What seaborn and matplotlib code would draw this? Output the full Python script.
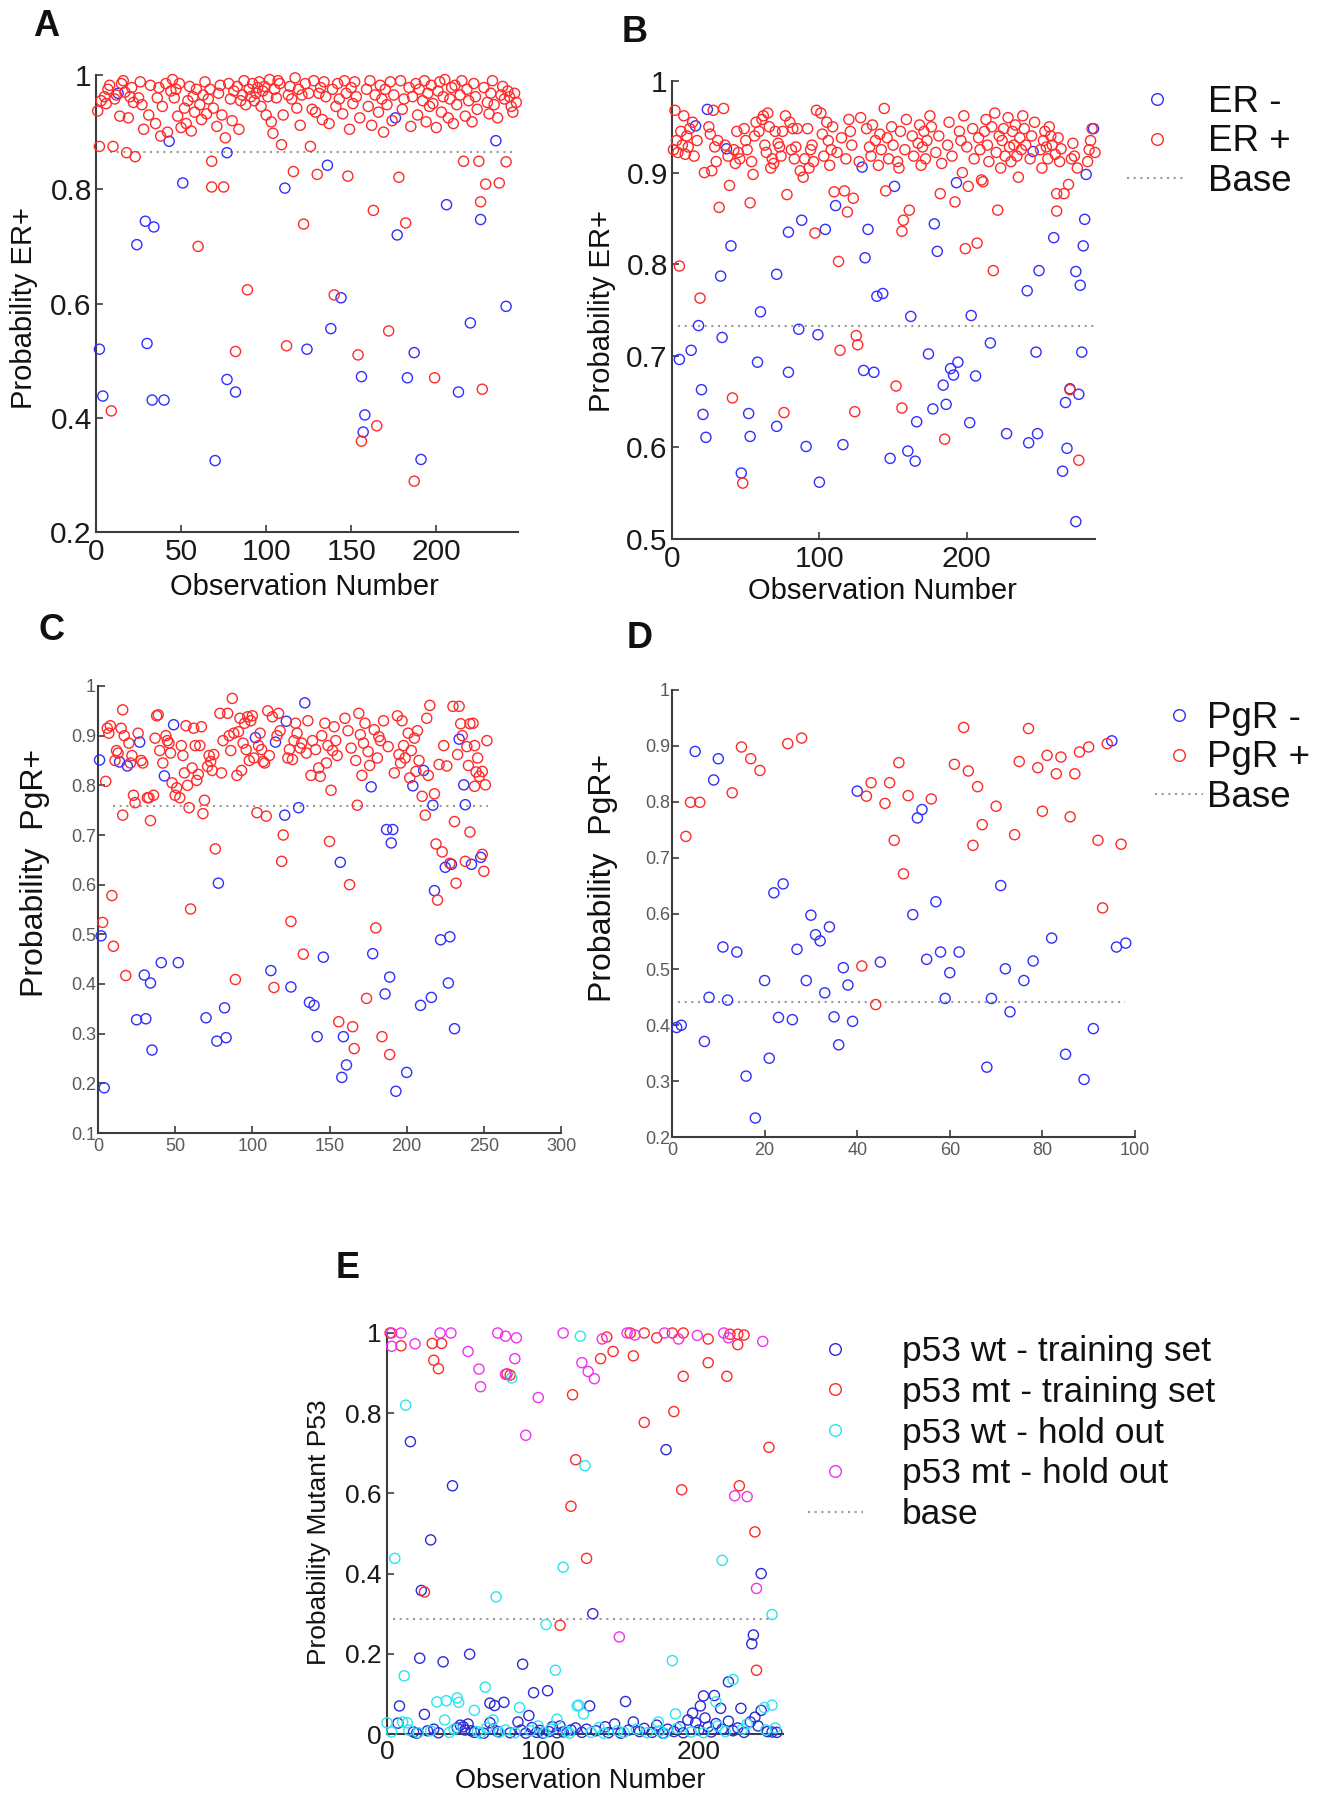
import matplotlib
matplotlib.use("Agg")
import numpy as np
import pandas as pd
import matplotlib.pyplot as plt
import seaborn as sns
from matplotlib.lines import Line2D

# ----------------------
# Data
# ----------------------

# Panel A - ER status (training set)
a_n_obs = 247
a_neg_x = [2, 4, 13, 24, 29, 30, 33, 34, 40, 43, 51, 70, 77, 77, 82, 111, 124, 136, 138, 144,
           156, 157, 158, 176, 177, 183, 187, 191, 206, 213, 220, 226, 235, 241]
a_neg_y = [0.520, 0.438, 0.968, 0.703, 0.744, 0.530, 0.431, 0.734, 0.431, 0.884, 0.811, 0.325, 0.864, 0.467,
           0.445, 0.802, 0.520, 0.842, 0.556, 0.610, 0.472, 0.375, 0.405, 0.925, 0.720, 0.470, 0.514, 0.327,
           0.773, 0.445, 0.566, 0.747, 0.885, 0.595]
a_pos_x = [2, 9, 10, 18, 23, 60, 68, 68, 75, 82, 89, 112, 116, 122, 130, 140, 148, 154, 156, 163,
           165, 172, 178, 182, 187, 199, 216, 225, 226, 227, 229, 237, 241]
a_pos_y = [0.875, 0.412, 0.875, 0.864, 0.857, 0.700, 0.804, 0.849, 0.804, 0.516, 0.624, 0.526, 0.831, 0.739,
           0.826, 0.615, 0.823, 0.510, 0.359, 0.763, 0.386, 0.552, 0.821, 0.741, 0.289, 0.470, 0.849, 0.849,
           0.778, 0.450, 0.809, 0.811, 0.848]
# dense ER+ band, remaining observations in order
a_pos_band = [
    0.937, 0.955, 0.962, 0.950, 0.975, 0.982, 0.958, 0.965, 0.928, 0.985,
    0.990, 0.970, 0.925, 0.962, 0.978, 0.952, 0.960, 0.988, 0.948, 0.905,
    0.930, 0.982, 0.915, 0.960, 0.978, 0.893, 0.945, 0.985, 0.900, 0.972,
    0.992, 0.960, 0.975, 0.928, 0.985, 0.908, 0.942, 0.915, 0.955, 0.980,
    0.902, 0.962, 0.935, 0.975, 0.948, 0.922, 0.965, 0.988, 0.932, 0.958,
    0.975, 0.942, 0.910, 0.968, 0.982, 0.930, 0.890, 0.985, 0.958, 0.920,
    0.972, 0.980, 0.905, 0.955, 0.965, 0.990, 0.948, 0.975, 0.962, 0.985,
    0.955, 0.968, 0.978, 0.988, 0.945, 0.972, 0.980, 0.930, 0.962, 0.992,
    0.918, 0.898, 0.975, 0.960, 0.990, 0.985, 0.878, 0.930, 0.965, 0.980,
    0.958, 0.995, 0.942, 0.975, 0.912, 0.965, 0.985, 0.968, 0.875, 0.940,
    0.990, 0.935, 0.968, 0.978, 0.922, 0.988, 0.962, 0.915, 0.975, 0.945,
    0.985, 0.958, 0.932, 0.990, 0.968, 0.905, 0.978, 0.950, 0.988, 0.962,
    0.925, 0.975, 0.945, 0.990, 0.912, 0.965, 0.935, 0.982, 0.958, 0.900,
    0.975, 0.948, 0.988, 0.920, 0.965, 0.990, 0.940, 0.958, 0.978, 0.910,
    0.962, 0.985, 0.930, 0.975, 0.955, 0.990, 0.918, 0.968, 0.945, 0.982,
    0.950, 0.908, 0.972, 0.988, 0.935, 0.962, 0.992, 0.925, 0.958, 0.978,
    0.915, 0.982, 0.948, 0.965, 0.990, 0.928, 0.975, 0.955, 0.918, 0.985,
    0.962, 0.940, 0.978, 0.952, 0.932, 0.968, 0.990, 0.948, 0.925, 0.965,
    0.980, 0.958, 0.972, 0.962, 0.945, 0.935, 0.968, 0.952]
a_base = 0.865
a_base_x = [8, 247]

# Panel B - ER status
b_n_obs = 287
b_neg_x = [24, 16, 37, 129, 111, 133, 104, 88, 79, 40, 131, 33, 71, 60, 18, 86, 99, 34, 13, 5,
           58, 130, 79, 20, 21, 52, 71, 23, 53, 91, 116, 47, 100,
           286, 245, 281, 151, 193, 178, 280, 259, 279, 180, 249, 274, 277, 241, 139, 143, 162, 203,
           216, 174, 247, 278, 137, 194, 189, 191, 206, 184, 270, 276, 267, 186, 177, 166, 202, 227,
           248, 242, 268, 148, 160, 165, 265, 274]
b_neg_y = [0.969, 0.951, 0.926, 0.906, 0.864, 0.838, 0.838, 0.848, 0.835, 0.820, 0.807, 0.787, 0.789, 0.748,
           0.733, 0.729, 0.723, 0.720, 0.706, 0.696, 0.693, 0.684, 0.682, 0.663, 0.636, 0.637, 0.623, 0.611,
           0.612, 0.601, 0.603, 0.572, 0.562,
           0.948, 0.923, 0.898, 0.885, 0.889, 0.844, 0.849, 0.829, 0.820, 0.814, 0.793, 0.792, 0.777, 0.771,
           0.765, 0.768, 0.743, 0.744, 0.714, 0.702, 0.704, 0.704, 0.682, 0.693, 0.686, 0.679, 0.678, 0.668,
           0.664, 0.658, 0.649, 0.647, 0.642, 0.628, 0.627, 0.615, 0.615, 0.605, 0.599, 0.588, 0.596, 0.585,
           0.574, 0.519]
b_pos_x = [5, 19, 41, 48, 76, 124, 114, 125, 126, 97, 113, 32, 53, 39, 78, 110, 117, 123, 119, 27,
           55, 270, 276, 185, 156, 152, 218, 199, 207, 156, 157, 161, 221, 261, 182, 192, 145, 201, 261, 266, 269]
b_pos_y = [0.798, 0.763, 0.654, 0.561, 0.638, 0.639, 0.706, 0.722, 0.712, 0.834, 0.803, 0.862, 0.867, 0.886,
           0.876, 0.879, 0.880, 0.872, 0.857, 0.902, 0.898, 0.663, 0.586, 0.609, 0.643, 0.667, 0.793, 0.817,
           0.823, 0.836, 0.848, 0.859, 0.859, 0.858, 0.877, 0.868, 0.880, 0.885, 0.877, 0.877, 0.887]
b_pos_band = [
    0.925, 0.968, 0.935, 0.922, 0.945, 0.930, 0.962, 0.920, 0.940, 0.928,
    0.948, 0.955, 0.918, 0.935, 0.900, 0.950, 0.942, 0.968, 0.928, 0.912,
    0.935, 0.970, 0.930, 0.918, 0.925, 0.910, 0.945, 0.922, 0.915, 0.948,
    0.935, 0.925, 0.912, 0.940, 0.955, 0.945, 0.958, 0.962, 0.930, 0.922,
    0.965, 0.950, 0.905, 0.915, 0.910, 0.945, 0.932, 0.928, 0.918, 0.945,
    0.962, 0.955, 0.925, 0.948, 0.915, 0.928, 0.948, 0.902, 0.895, 0.915,
    0.948, 0.905, 0.925, 0.930, 0.912, 0.968, 0.965, 0.942, 0.918, 0.955,
    0.935, 0.908, 0.925, 0.950, 0.922, 0.938, 0.915, 0.958, 0.945, 0.930,
    0.912, 0.960, 0.948, 0.928, 0.918, 0.952, 0.935, 0.908, 0.942, 0.925,
    0.970, 0.938, 0.915, 0.950, 0.930, 0.912, 0.905, 0.945, 0.925, 0.958,
    0.940, 0.918, 0.932, 0.952, 0.908, 0.928, 0.945, 0.915, 0.935, 0.962,
    0.950, 0.922, 0.940, 0.910, 0.930, 0.955, 0.918, 0.945, 0.935, 0.900,
    0.962, 0.928, 0.948, 0.915, 0.938, 0.925, 0.892, 0.890, 0.945, 0.958,
    0.930, 0.912, 0.950, 0.965, 0.922, 0.940, 0.905, 0.935, 0.948, 0.918,
    0.960, 0.928, 0.912, 0.945, 0.930, 0.952, 0.918, 0.895, 0.938, 0.925,
    0.962, 0.948, 0.930, 0.915, 0.940, 0.955, 0.925, 0.905, 0.935, 0.945,
    0.928, 0.915, 0.950, 0.940, 0.930, 0.920, 0.938, 0.912, 0.926, 0.915,
    0.932, 0.918, 0.905, 0.912, 0.925, 0.935, 0.948, 0.922, 0.915, 0.930,
    0.940, 0.925, 0.918, 0.935, 0.912]
b_base = 0.732
b_base_x = [4, 286]

# Panel C - PgR status (training set)
c_n_obs = 252
c_neg_x = [1, 4, 2, 14, 19, 27, 43, 49, 41, 52, 30, 34, 25, 31, 35, 78, 82, 70, 77, 83,
           102, 115, 122, 134, 121, 130, 112, 125, 137, 140, 142, 146, 234, 211, 237, 204, 177, 217, 238, 187,
           191, 190, 157, 225, 229, 242, 248, 218, 222, 228, 178, 189, 186, 227, 216, 209, 231, 159, 161, 158,
           200, 193]
c_neg_y = [0.851, 0.191, 0.497, 0.847, 0.839, 0.887, 0.819, 0.922, 0.443, 0.443, 0.418, 0.402, 0.328, 0.330,
           0.267, 0.603, 0.352, 0.332, 0.285, 0.292, 0.896, 0.887, 0.929, 0.966, 0.740, 0.755, 0.427, 0.394,
           0.363, 0.357, 0.294, 0.454, 0.893, 0.830, 0.801, 0.799, 0.797, 0.760, 0.761, 0.711, 0.711, 0.684,
           0.645, 0.635, 0.641, 0.641, 0.655, 0.588, 0.489, 0.495, 0.461, 0.414, 0.380, 0.402, 0.373, 0.357,
           0.310, 0.294, 0.237, 0.212, 0.222, 0.184]
c_pos_x = [3, 9, 10, 5, 18, 16, 34, 60, 76, 89, 114, 125, 119, 120, 133, 103, 109, 68, 59, 150,
           16, 163, 180, 174, 156, 165, 166, 184, 189, 231, 241, 219, 223, 228, 238, 249, 250, 232, 220, 212,
           168, 210, 218, 151, 230, 234, 215, 245, 249, 244, 251, 239, 244, 235, 241, 221, 226]
c_pos_y = [0.524, 0.578, 0.476, 0.808, 0.417, 0.740, 0.729, 0.551, 0.672, 0.409, 0.393, 0.526, 0.647, 0.700,
           0.460, 0.745, 0.738, 0.743, 0.755, 0.687, 0.952, 0.600, 0.513, 0.371, 0.324, 0.314, 0.270, 0.294,
           0.258, 0.727, 0.706, 0.682, 0.666, 0.643, 0.647, 0.661, 0.627, 0.603, 0.569, 0.740, 0.760, 0.778,
           0.783, 0.790, 0.959, 0.959, 0.961, 0.827, 0.828, 0.798, 0.801, 0.878, 0.880, 0.924, 0.924, 0.842,
           0.839]
c_pos_band = [
    0.915, 0.905, 0.920, 0.850, 0.870, 0.865, 0.915, 0.900, 0.885, 0.845,
    0.860, 0.780, 0.765, 0.905, 0.850, 0.845, 0.775, 0.775, 0.780, 0.895,
    0.940, 0.942, 0.870, 0.845, 0.900, 0.890, 0.885, 0.865, 0.805, 0.780,
    0.795, 0.775, 0.880, 0.860, 0.825, 0.920, 0.800, 0.835, 0.915, 0.880,
    0.810, 0.822, 0.880, 0.918, 0.770, 0.838, 0.860, 0.848, 0.830, 0.862,
    0.945, 0.825, 0.890, 0.945, 0.900, 0.870, 0.975, 0.905, 0.820, 0.908,
    0.935, 0.830, 0.885, 0.925, 0.872, 0.938, 0.850, 0.930, 0.940, 0.855,
    0.880, 0.905, 0.872, 0.848, 0.845, 0.950, 0.860, 0.938, 0.900, 0.945,
    0.910, 0.855, 0.872, 0.852, 0.890, 0.925, 0.905, 0.875, 0.885, 0.865,
    0.930, 0.820, 0.890, 0.872, 0.835, 0.818, 0.900, 0.925, 0.845, 0.880,
    0.870, 0.918, 0.890, 0.860, 0.935, 0.910, 0.875, 0.850, 0.945, 0.902,
    0.820, 0.885, 0.925, 0.868, 0.840, 0.912, 0.855, 0.898, 0.890, 0.930,
    0.878, 0.825, 0.940, 0.862, 0.845, 0.930, 0.880, 0.855, 0.905, 0.815,
    0.870, 0.895, 0.828, 0.910, 0.850, 0.935, 0.820, 0.880, 0.862, 0.900,
    0.840, 0.925, 0.855, 0.818, 0.890, 0.865, 0.800, 0.845, 0.880, 0.860]
c_base = 0.759
c_base_x = [10, 253]

# Panel D - PgR status (hold out)
d_n_obs = 98
d_neg_x = [1, 2, 5, 7, 8, 9, 10, 11, 12, 14, 16, 18, 20, 21, 22, 24, 23, 26, 27, 29,
           30, 31, 32, 33, 34, 35, 36, 37, 38, 39, 40, 45, 52, 53, 54, 55, 57, 58, 60, 59,
           62, 68, 69, 71, 72, 73, 76, 78, 82, 85, 89, 91, 96, 98, 95]
d_neg_y = [0.396, 0.400, 0.890, 0.371, 0.450, 0.839, 0.877, 0.540, 0.445, 0.531, 0.309, 0.234, 0.480, 0.341,
           0.637, 0.653, 0.414, 0.410, 0.536, 0.480, 0.597, 0.562, 0.551, 0.458, 0.576, 0.415, 0.365, 0.503,
           0.472, 0.407, 0.819, 0.513, 0.598, 0.771, 0.786, 0.518, 0.621, 0.531, 0.494, 0.448, 0.531, 0.325,
           0.448, 0.650, 0.501, 0.424, 0.480, 0.515, 0.556, 0.348, 0.303, 0.394, 0.540, 0.547, 0.909]
d_pos_x = [3, 4, 6, 13, 15, 17, 19, 25, 28, 41, 42, 43, 46, 44, 47, 49, 51, 48, 50, 56,
           63, 61, 64, 66, 67, 65, 70, 74, 77, 75, 79, 81, 80, 83, 84, 86, 87, 88, 90, 92, 93, 94, 97]
d_pos_y = [0.738, 0.799, 0.799, 0.816, 0.898, 0.877, 0.856, 0.904, 0.914, 0.506, 0.810, 0.834, 0.797, 0.437,
           0.834, 0.870, 0.811, 0.731, 0.671, 0.805, 0.933, 0.867, 0.855, 0.827, 0.759, 0.722, 0.792, 0.741,
           0.931, 0.872, 0.861, 0.883, 0.783, 0.850, 0.880, 0.773, 0.850, 0.889, 0.898, 0.731, 0.610, 0.904,
           0.724]
d_base = 0.441
d_base_x = [1.3, 97.8]

# Panel E - p53 status
e_wt_train_x = [15, 42, 28, 22, 21, 36, 53, 87, 8, 24, 94, 103, 66, 69, 75, 91, 7, 179, 132, 240,
                235, 234, 219, 210, 203, 201, 196, 153, 130, 227, 240, 214, 233,
                17, 19, 26, 30, 33, 45, 47, 49, 50, 52, 54, 56, 62, 66, 68, 71, 79, 84, 86, 89,
                93, 96, 98, 100, 104, 106, 109, 111, 113, 118, 121,
                125, 128, 134, 140, 142, 146, 150, 155, 158, 162, 165, 170, 173, 177, 180, 184, 188, 190,
                193, 198, 200, 204, 206, 208, 211, 215, 219, 222, 225, 229, 236, 238, 244, 247, 250]
e_wt_train_y = [0.729, 0.619, 0.484, 0.358, 0.189, 0.180, 0.199, 0.174, 0.070, 0.049, 0.103, 0.108, 0.077,
                0.071, 0.079, 0.046, 0.027, 0.709, 0.300, 0.400, 0.247, 0.225, 0.130, 0.096, 0.095, 0.070,
                0.052, 0.081, 0.070, 0.064, 0.059, 0.064, 0.030,
                0.005, 0.002, 0.008, 0.012, 0.003, 0.015, 0.022, 0.018, 0.010, 0.025, 0.008, 0.004, 0.002,
                0.028, 0.012, 0.006, 0.003, 0.030, 0.010, 0.002, 0.016, 0.004, 0.009, 0.002, 0.006, 0.018,
                0.003, 0.020, 0.005, 0.010, 0.015,
                0.004, 0.012, 0.008, 0.018, 0.003, 0.025, 0.002, 0.010, 0.030, 0.006, 0.014, 0.004, 0.022,
                0.002, 0.012, 0.006, 0.018, 0.003, 0.035, 0.028, 0.010, 0.040, 0.018, 0.005, 0.026, 0.012,
                0.032, 0.008, 0.015, 0.004, 0.042, 0.020, 0.006, 0.005, 0.004]
e_mt_train_x = [2, 9, 29, 35, 30, 33, 77, 79, 24, 111, 118, 119, 121, 128, 137, 145, 158, 165, 184, 190,
                189, 206, 218, 226, 236, 237, 245, 141, 156, 165, 173, 183, 190, 206, 220, 225, 229, 225]
e_mt_train_y = [1.0, 0.968, 0.974, 0.974, 0.932, 0.911, 0.898, 0.895, 0.354, 0.271, 0.568, 0.846, 0.684,
                0.438, 0.936, 0.954, 0.943, 0.777, 0.804, 0.892, 0.609, 0.926, 0.892, 0.619, 0.504, 0.159,
                0.715, 0.990, 1.0, 1.0, 0.988, 1.0, 1.0, 0.985, 0.997, 0.997, 0.995, 0.971]
e_wt_hold_x = [5, 12, 11, 70, 80, 102, 113, 108, 63, 32, 38, 45, 46, 56, 85, 122, 0, 10, 13, 37,
               68, 109, 124, 127, 183, 215, 247, 222, 247, 242, 123, 126, 185, 174, 211,
               3, 14, 20, 28, 40, 43, 58, 60, 64, 72, 76, 82, 92, 97, 101, 105, 115, 117, 131, 136,
               139, 148, 152, 160, 167, 175, 178, 186, 195, 203, 212, 217, 228, 231, 243, 249]
e_wt_hold_y = [0.438, 0.820, 0.145, 0.342, 0.888, 0.273, 0.416, 0.159, 0.117, 0.080, 0.083, 0.090, 0.079,
               0.059, 0.066, 0.070, 0.028, 0.030, 0.028, 0.035, 0.035, 0.037, 0.992, 0.669, 0.183, 0.433,
               0.298, 0.136, 0.072, 0.066, 0.072, 0.050, 0.050, 0.030, 0.080,
               0.005, 0.010, 0.003, 0.008, 0.004, 0.012, 0.006, 0.002, 0.015, 0.004, 0.010, 0.003, 0.008,
               0.020, 0.003, 0.012, 0.006, 0.002, 0.004, 0.016, 0.002, 0.008, 0.004, 0.012, 0.003, 0.008,
               0.002, 0.014, 0.005, 0.003, 0.020, 0.006, 0.012, 0.025, 0.010, 0.015]
e_mt_hold_x = [3, 9, 3, 18, 34, 41, 52, 59, 60, 71, 76, 83, 82, 89, 97, 113, 76, 138, 125, 129,
               133, 154, 159, 178, 187, 199, 216, 219, 241, 223, 231, 237, 149]
e_mt_hold_y = [1.0, 1.0, 0.967, 0.973, 1.0, 1.0, 0.954, 0.910, 0.866, 1.0, 0.992, 0.988, 0.936, 0.745,
               0.839, 1.0, 0.897, 0.985, 0.926, 0.904, 0.886, 1.0, 0.995, 1.0, 0.985, 0.994, 1.0, 0.988,
               0.979, 0.594, 0.592, 0.363, 0.242]
e_base = 0.286
e_base_x = [4, 247]

# ----------------------
# Helpers
# ----------------------

W, H = 1320, 1796
MS = 53          # marker area (pt^2)
LW = 1.0         # ring line width
SPINE = "#3c3c3c"
BASE_COL = "#9a9a9a"
DOTS = (0, (1, 2.2))

BLUE, RED = "#2f2fff", "#ff2a2a"
E_BLUE, CYAN, MAGENTA = "#2b2bd9", "#2ae4ee", "#ee33ee"


def panel_frame(n_obs, neg_x, neg_y, pos_x, pos_y, pos_band, neg_name, pos_name):
    taken = set(neg_x) | set(pos_x)
    free = [i for i in range(1, n_obs + 1) if i not in taken]
    k = min(len(free), len(pos_band))
    neg = pd.DataFrame({"obs": neg_x, "prob": neg_y, "group": neg_name})
    pos = pd.DataFrame({"obs": list(pos_x) + free[:k],
                        "prob": list(pos_y) + list(pos_band[:k]), "group": pos_name})
    return pd.concat([neg, pos], ignore_index=True)


def rings(ax, df, palette):
    sns.scatterplot(data=df, x="obs", y="prob", hue="group", palette=palette,
                    hue_order=list(palette), s=MS, linewidth=LW, marker="o",
                    legend=False, ax=ax, clip_on=False, zorder=3)
    pts = ax.collections[-1]
    pts.set_edgecolors(pts.get_facecolors())
    pts.set_facecolors("none")


def base_line(ax, xs, b):
    ax.plot(xs, [b, b], color=BASE_COL, ls=DOTS, lw=1.5, zorder=1)


def style(ax, xlim, ylim, xticks, yticks, size, labcol, xpad, ypad):
    ax.set_xlim(xlim)
    ax.set_ylim(ylim)
    ax.set_xticks(xticks)
    ax.set_yticks(yticks)
    ax.set_xticklabels([f"{v:g}" for v in xticks])
    ax.set_yticklabels([f"{v:g}" for v in yticks])
    sns.despine(ax=ax)
    for s in ("left", "bottom"):
        ax.spines[s].set_color(SPINE)
        ax.spines[s].set_linewidth(1.5)
    ax.tick_params(direction="in", length=5, width=1.2, color=SPINE,
                   labelcolor=labcol, labelsize=size)
    ax.tick_params(axis="x", pad=xpad)
    ax.tick_params(axis="y", pad=ypad)


def labels(ax, xlabel, xpos, ylabel, ypos, xsize, ysize):
    ax.set_xlabel(xlabel, fontsize=xsize)
    ax.set_ylabel(ylabel, fontsize=ysize)
    if xpos is not None:
        ax.xaxis.set_label_coords(xpos[0] / W, 1 - xpos[1] / H, transform=fig.transFigure)
        ax.xaxis.label.set_va("center")
    ax.yaxis.set_label_coords(ypos[0] / W, 1 - ypos[1] / H, transform=fig.transFigure)
    ax.yaxis.label.set_va("center")


def ring_handle(color):
    return Line2D([0], [0], marker="o", ls="none", mfc="none", mec=color,
                  ms=np.sqrt(MS) * 1.15, mew=LW)


def legend(ax, colors, names, left, top, fs, hl, htp, ls):
    handles = [ring_handle(c) for c in colors]
    handles.append(Line2D([0], [0], color=BASE_COL, ls=DOTS, lw=1.5))
    ax.legend(handles, names, loc="upper left", bbox_to_anchor=(left / W, 1 - top / H),
              bbox_transform=fig.transFigure, frameon=False, fontsize=fs,
              handlelength=hl, handletextpad=htp, labelspacing=ls,
              borderpad=0, borderaxespad=0)


def rect(l, t, r, b):
    return [l / W, 1 - b / H, (r - l) / W, (b - t) / H]


# ----------------------
# Figure
# ----------------------

sns.set_theme(style="ticks")
plt.rcParams["font.family"] = ["Liberation Sans", "DejaVu Sans"]
plt.rcParams["text.color"] = "#111111"
plt.rcParams["axes.labelcolor"] = "#111111"

fig = plt.figure(figsize=(W / 100, H / 100), dpi=100)

ax_a = fig.add_axes(rect(96, 75, 518, 532))
ax_b = fig.add_axes(rect(672, 81, 1095, 539))
ax_c = fig.add_axes(rect(98, 686, 561, 1133))
ax_d = fig.add_axes(rect(672, 690, 1135, 1137))
ax_e = fig.add_axes(rect(387, 1333, 783, 1734))

# A
df_a = panel_frame(a_n_obs, a_neg_x, a_neg_y, a_pos_x, a_pos_y, a_pos_band, "ER -", "ER +")
base_line(ax_a, a_base_x, a_base)
rings(ax_a, df_a, {"ER -": BLUE, "ER +": RED})
style(ax_a, (0, 248), (0.2, 1.0), [0, 50, 100, 150, 200], [0.2, 0.4, 0.6, 0.8, 1.0],
      21.5, "#1a1a1a", 4, 3)
labels(ax_a, "Observation Number", (304, 587), "Probability ER+", (24, 308), 21, 21)

# B
df_b = panel_frame(b_n_obs, b_neg_x, b_neg_y, b_pos_x, b_pos_y, b_pos_band, "ER -", "ER +")
base_line(ax_b, b_base_x, b_base)
rings(ax_b, df_b, {"ER -": BLUE, "ER +": RED})
style(ax_b, (0, 287), (0.5, 1.0), [0, 100, 200], [0.5, 0.6, 0.7, 0.8, 0.9, 1.0],
      21.5, "#1a1a1a", 4, 3)
labels(ax_b, "Observation Number", (882, 591), "Probability ER+", (602, 311), 21, 21)
legend(ax_b, [BLUE, RED], ["ER -", "ER +", "Base"], 1127, 85, 26.5, 1.63, 0.57, 0.12)

# C
df_c = panel_frame(c_n_obs, c_neg_x, c_neg_y, c_pos_x, c_pos_y, c_pos_band, "PgR -", "PgR +")
base_line(ax_c, c_base_x, c_base)
rings(ax_c, df_c, {"PgR -": BLUE, "PgR +": RED})
style(ax_c, (0, 300), (0.1, 1.0), [0, 50, 100, 150, 200, 250, 300],
      [0.1, 0.2, 0.3, 0.4, 0.5, 0.6, 0.7, 0.8, 0.9, 1.0], 13, "#5a5a5a", 3.5, 1.5)
labels(ax_c, "", None, "Probability  PgR+", (35, 873), 13, 23)

# D
df_d = panel_frame(d_n_obs, d_neg_x, d_neg_y, d_pos_x, d_pos_y, [], "PgR -", "PgR +")
base_line(ax_d, d_base_x, d_base)
rings(ax_d, df_d, {"PgR -": BLUE, "PgR +": RED})
style(ax_d, (0, 100), (0.2, 1.0), [0, 20, 40, 60, 80, 100],
      [0.2, 0.3, 0.4, 0.5, 0.6, 0.7, 0.8, 0.9, 1.0], 13, "#5a5a5a", 3.5, 1.5)
labels(ax_d, "", None, "Probability  PgR+", (603, 878), 13, 23)
legend(ax_d, [BLUE, RED], ["PgR -", "PgR +", "Base"], 1155, 701, 26.5, 1.3, 0.1, 0.12)

# E
e_groups = ["p53 wt - training set", "p53 mt - training set", "p53 wt - hold out", "p53 mt - hold out"]
df_e = pd.concat([
    pd.DataFrame({"obs": e_wt_train_x, "prob": e_wt_train_y, "group": e_groups[0]}),
    pd.DataFrame({"obs": e_mt_train_x, "prob": e_mt_train_y, "group": e_groups[1]}),
    pd.DataFrame({"obs": e_wt_hold_x, "prob": e_wt_hold_y, "group": e_groups[2]}),
    pd.DataFrame({"obs": e_mt_hold_x, "prob": e_mt_hold_y, "group": e_groups[3]}),
], ignore_index=True)
e_colors = [E_BLUE, RED, CYAN, MAGENTA]
base_line(ax_e, e_base_x, e_base)
rings(ax_e, df_e, dict(zip(e_groups, e_colors)))
style(ax_e, (0, 254), (0, 1.0), [0, 100, 200], [0, 0.2, 0.4, 0.6, 0.8, 1.0],
      19, "#1a1a1a", 4, 4)
labels(ax_e, "Observation Number", (580, 1781), "Probability Mutant P53", (319, 1532), 19.5, 19)
legend(ax_e, e_colors, e_groups + ["base"], 808, 1335, 25.5, 1.55, 1.1, 0.22)

# panel letters
for letter, (px, py) in {"A": (46, 27), "B": (635, 32), "C": (52, 630),
                         "D": (640, 639), "E": (348, 1269)}.items():
    fig.text(px / W, 1 - py / H, letter, fontsize=26, fontweight="bold",
             ha="center", va="center")

plt.savefig("out.png", dpi=100)
